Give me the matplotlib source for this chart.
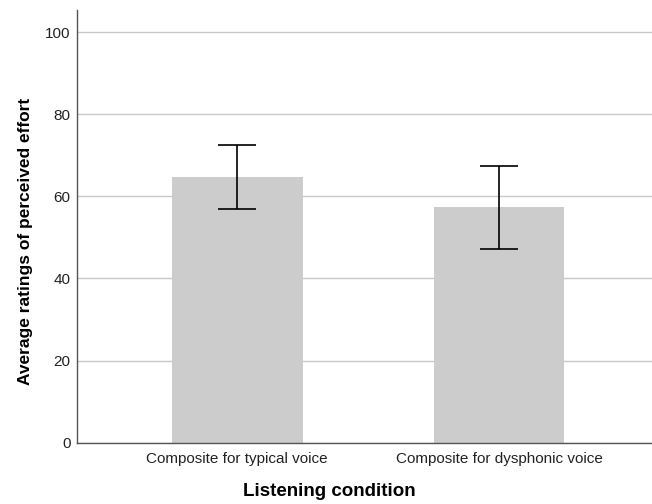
import matplotlib
matplotlib.use("Agg")
import matplotlib.pyplot as plt

# data
conditions = ["Composite for typical voice", "Composite for dysphonic voice"]
means = [64.6, 57.3]
err_low = [56.9, 47.3]
err_high = [72.5, 67.5]

plt.rcParams['font.family'] = ['Liberation Sans', 'DejaVu Sans']

fig = plt.figure(figsize=(6.52, 5.04), dpi=100)
ax = fig.add_axes([0.118, 0.1216, 0.882, 0.8586])

x = list(range(len(conditions)))
yerr = [[m - lo for m, lo in zip(means, err_low)],
        [hi - m for m, hi in zip(means, err_high)]]

ax.bar(x, means, width=0.5, color='#cccccc', zorder=2)
ax.errorbar(x, means, yerr=yerr, fmt='none', ecolor='black',
            elinewidth=1.2, capsize=14, capthick=1.2, zorder=3)

ax.set_xlim(-0.611, 1.584)
ax.set_ylim(0, 105.4)
ax.set_yticks([0, 20, 40, 60, 80, 100])
ax.set_xticks(x)
ax.set_xticklabels(conditions)
ax.yaxis.grid(True, color='#c8c8c8', linewidth=1.0, zorder=0)
ax.set_axisbelow(True)

for s in ['top', 'right']:
    ax.spines[s].set_visible(False)
for s in ['left', 'bottom']:
    ax.spines[s].set_color('#555555')
    ax.spines[s].set_linewidth(1.0)

ax.tick_params(axis='both', length=0, labelsize=11, colors='#222222')
ax.tick_params(axis='y', pad=4.5)
ax.tick_params(axis='x', pad=7)

ax.set_xlabel('Listening condition', fontsize=13.5, fontweight='bold')
ax.set_ylabel('Average ratings of perceived effort', fontsize=12.5, fontweight='bold')
ax.xaxis.set_label_coords(0.438, -0.092)
ax.yaxis.set_label_coords(-0.077, 0.466)

fig.savefig('out.png', dpi=100)
